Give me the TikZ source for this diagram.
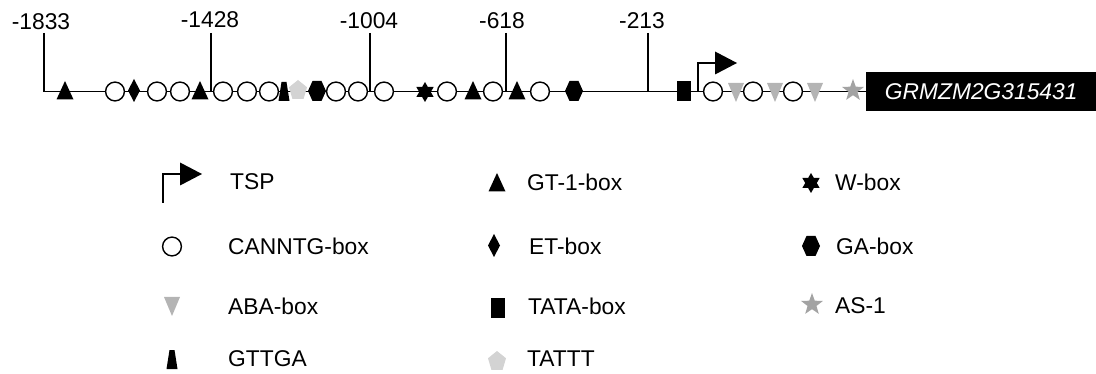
\documentclass[tikz,border=0pt]{standalone}
\usepackage{fontspec}
\setmainfont{Liberation Sans}
\definecolor{abagray}{HTML}{B4B4B4}
\definecolor{asgray}{HTML}{A3A3A3}
\definecolor{pentgray}{HTML}{D3D3D3}
\tikzset{
  lbl/.style={font=\fontsize{22.8}{25}\selectfont, inner sep=0pt},
  dna/.style={line width=1.7pt},
  % promoter element markers, drawn about their own origin (y grows downward)
  gtbox/.pic={\coordinate (-c) at (0,0);
    \fill (0,-11) -- (8.5,7.5) -- (-8.5,7.5) -- cycle;},
  cbox/.pic={\coordinate (-c) at (0,0);
    \draw[fill=white, line width=1.4pt] (0,-0.5) circle (9.4);},
  etbox/.pic={\coordinate (-c) at (0,0);
    \fill (0,-13) -- (6,-1.5) -- (0,10) -- (-6,-1.5) -- cycle;},
  gttga/.pic={\coordinate (-c) at (0,0);
    \fill (-2.5,-10) -- (2.5,-10) -- (5.5,9) -- (-5.5,9) -- cycle;},
  tattt/.pic={\coordinate (-c) at (0,0);
    \fill[pentgray, shift={(0,-1.5)}, xscale=0.9] (-90:10.5) -- (-18:10.5) -- (54:10.5) -- (126:10.5) -- (198:10.5) -- cycle;},
  gabox/.pic={\coordinate (-c) at (0,0);
    \fill (-9,-1) -- (-4.5,-11) -- (4.5,-11) -- (9,-1) -- (4.5,9) -- (-4.5,9) -- cycle;},
  wbox/.pic={\coordinate (-c) at (0,0);
    \fill (-90:10) -- (30:10) -- (150:10) -- cycle
          (90:10) -- (210:10) -- (330:10) -- cycle;},
  ababox/.pic={\coordinate (-c) at (0,0);
    \fill[abagray] (-8,-9) -- (8,-9) -- (0,10) -- cycle;},
  tatabox/.pic={\coordinate (-c) at (0,0);
    \fill (-7,-11) rectangle (7,9);},
  asone/.pic={\coordinate (-c) at (0,0);
    \fill[asgray, shift={(0,-1.5)}] (-90:11.5) -- (-54:4.7) -- (-18:11.5) -- (18:4.7) -- (54:11.5) -- (90:4.7)
      -- (126:11.5) -- (162:4.7) -- (198:11.5) -- (234:4.7) -- cycle;},
  tsp/.pic={\coordinate (-c) at (0,0);
    \draw[line width=1.8pt] (0,0) -- (0,-29) -- (17,-29);
    \fill (17,-40.5) -- (39,-29) -- (17,-17.5) -- cycle;},
}
\begin{document}
\begin{tikzpicture}[x=1pt, y=-1pt]
\useasboundingbox (0,0) rectangle (1096,374);

% gene body
\node[fill=black, anchor=west, minimum width=230pt, minimum height=39pt, inner sep=0pt,
      text=white, font=\fontsize{22.8}{25}\selectfont\itshape] (gene) at (866,91.5) {GRMZM2G315431};

% position labels and tick tops
\node[lbl] (p1833) at (41,22) {-1833};
\node[lbl] (p1428) at (210,20) {-1428};
\node[lbl] (p1004) at (369,21) {-1004};
\node[lbl] (p618)  at (502,21) {-618};
\node[lbl] (p213)  at (642,21) {-213};
\coordinate (k1833) at (44,33);
\coordinate (k1428) at (211,33);
\coordinate (k1004) at (370,33);
\coordinate (k618)  at (506,33);
\coordinate (k213)  at (648,33);

% promoter line and ticks
\draw[dna] (k1833) |- (gene.west);
\foreach \k in {k1428,k1004,k618,k213}
  \draw[dna] (\k) -- (\k |- gene.west);

% elements on the promoter
\pic (e1)  at (65,92)  {gtbox};
\pic (e2)  at (115,92) {cbox};
\pic (e3)  at (134,92) {etbox};
\pic (e4)  at (157,92) {cbox};
\pic (e5)  at (180,92) {cbox};
\pic (e6)  at (200,92) {gtbox};
\pic (e7)  at (223,92) {cbox};
\pic (e8)  at (247,92) {cbox};
\pic (e9)  at (269,92) {cbox};
\pic (e10) at (284,92) {gttga};
\pic (e11) at (298,92) {tattt};
\pic (e12) at (317,92) {gabox};
\pic (e13) at (336,92) {cbox};
\pic (e14) at (358,92) {cbox};
\pic (e15) at (384,92) {cbox};
\pic (e16) at (425,92) {wbox};
\pic (e17) at (447,92) {cbox};
\pic (e18) at (473,92) {gtbox};
\pic (e19) at (493,92) {cbox};
\pic (e20) at (517,92) {gtbox};
\pic (e21) at (540,92) {cbox};
\pic (e22) at (574,92) {gabox};
\pic (e23) at (684,92) {tatabox};
\pic (e24) at (698,92) {tsp};
\pic (e25) at (713,92) {cbox};
\pic (e26) at (736,92) {ababox};
\pic (e27) at (753,92) {cbox};
\pic (e28) at (775,92) {ababox};
\pic (e29) at (793,92) {cbox};
\pic (e30) at (815,92) {ababox};
\pic (e31) at (853,92) {asone};

% legend
\pic (l1)  at (163,203) {tsp};
\node[lbl, anchor=west] (t1) at (230,182) {TSP};
\pic (l2)  at (172,247) {cbox};
\node[lbl, anchor=west] (t2) at (228,246) {CANNTG-box};
\pic (l3)  at (172,306) {ababox};
\node[lbl, anchor=west] (t3) at (228,306) {ABA-box};
\pic (l4)  at (172,360) {gttga};
\node[lbl, anchor=west] (t4) at (228,359) {GTTGA};

\pic (l5)  at (497,184) {gtbox};
\node[lbl, anchor=west] (t5) at (527,182) {GT-1-box};
\pic (l6)  at (494,247) {etbox};
\node[lbl, anchor=west] (t6) at (529,246) {ET-box};
\pic (l7)  at (498,309) {tatabox};
\node[lbl, anchor=west] (t7) at (528,306) {TATA-box};
\pic (l8)  at (497,363) {tattt};
\node[lbl, anchor=west] (t8) at (527,359) {TATTT};

\pic (l9)  at (811,183) {wbox};
\node[lbl, anchor=west] (t9) at (835,182) {W-box};
\pic (l10) at (811,247) {gabox};
\node[lbl, anchor=west] (t10) at (836,246) {GA-box};
\pic (l11) at (812,306) {asone};
\node[lbl, anchor=west] (t11) at (835,306) {AS-1};
\end{tikzpicture}
\end{document}
